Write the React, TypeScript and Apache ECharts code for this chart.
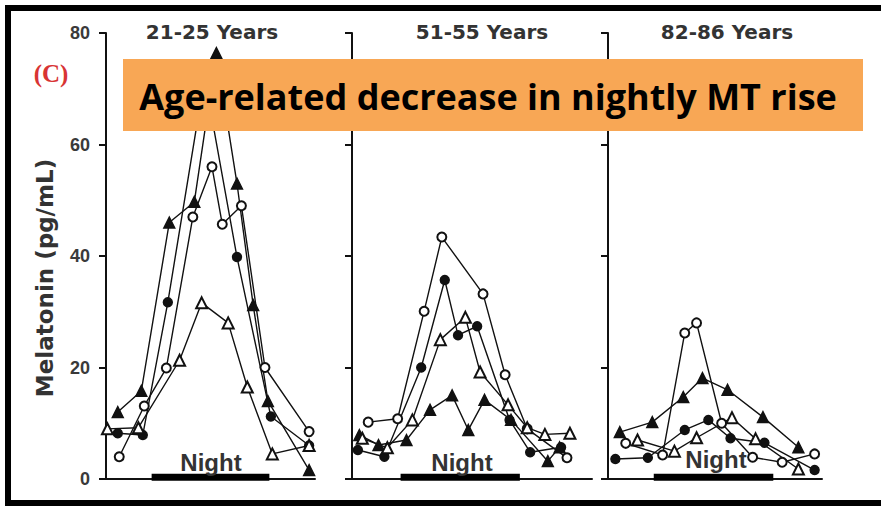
import React, { useEffect, useRef } from "react";
import * as echarts from "echarts";

// ---- data (time in clock hours, >24 = next morning; melatonin in pg/mL) ----
const panelTitles = ["21-25 Years", "51-55 Years", "82-86 Years"];
const xMin = 20;
const panelXMax = [34.2, 36.3, 34.5];
const nightStart = [23.1, 23.3, 23.1];
const nightEnd = [31.1, 31.4, 31.2];
const yMax = 80;
const yInterval = 20;
const yTickValues = [0, 20, 40, 60, 80];

// 21-25 years
const young_filledCircle: [number, number][] = [[20.8, 8.2], [22.5, 7.9], [24.2, 31.7], [26.7, 72], [28.9, 39.8], [31.2, 11.2], [33.8, 6]];
const young_openCircle: [number, number][] = [[20.9, 4], [22.6, 13.1], [24.1, 19.9], [25.9, 47], [27.2, 56], [27.9, 45.7], [29.2, 49], [30.8, 20], [33.8, 8.5]];
const young_filledTriangle: [number, number][] = [[20.8, 12], [22.4, 15.8], [24.3, 46], [26.0, 49.7], [27.5, 76.4], [28.9, 53], [30.0, 31.2], [31.0, 14], [33.8, 1.6]];
const young_openTriangle: [number, number][] = [[20.1, 9], [22.2, 9.2], [25.0, 21.3], [26.5, 31.6], [28.3, 28], [29.6, 16.5], [31.3, 4.5], [33.8, 6]];

// 51-55 years
const middle_filledCircle: [number, number][] = [[20.4, 5.2], [22.2, 4], [24.7, 20], [26.3, 35.7], [27.2, 25.8], [28.5, 27.4], [30.7, 10.6], [32.1, 4.8], [34.2, 5.7]];
const middle_openCircle: [number, number][] = [[21.1, 10.2], [23.1, 10.8], [24.9, 30.1], [26.1, 43.4], [28.9, 33.2], [30.4, 18.7], [31.9, 9.0], [34.6, 3.8]];
const middle_filledTriangle: [number, number][] = [[20.5, 7.9], [21.8, 6.1], [23.7, 7], [25.3, 12.4], [26.8, 15], [27.9, 8.8], [29.0, 14.2], [30.8, 10.6], [33.3, 3.2], [34.1, 5.7]];
const middle_openTriangle: [number, number][] = [[20.7, 7.3], [22.4, 5.6], [24.1, 10.6], [26.0, 25], [27.7, 29], [28.7, 19.2], [30.6, 13.3], [31.9, 9.2], [33.1, 8.0], [34.8, 8.2]];

// 82-86 years
const old_filledCircle: [number, number][] = [[20.5, 3.6], [22.7, 3.8], [25.2, 8.8], [26.8, 10.6], [28.3, 7.3], [30.6, 6.5], [34.0, 1.6]];
const old_openCircle: [number, number][] = [[21.2, 6.4], [23.7, 4.3], [25.2, 26.2], [26.0, 28], [27.7, 10], [29.8, 3.9], [31.8, 3], [34.0, 4.5]];
const old_filledTriangle: [number, number][] = [[20.8, 8.4], [23.0, 10.2], [25.1, 14.7], [26.4, 18.1], [28.1, 16], [30.5, 11.1], [32.9, 5.7]];
const old_openTriangle: [number, number][] = [[22.0, 7.0], [24.5, 5.0], [26.0, 7.4], [28.4, 11], [30.0, 7.2], [32.9, 1.8]];

const panels = [
  [young_filledCircle, young_openCircle, young_filledTriangle, young_openTriangle],
  [middle_filledCircle, middle_openCircle, middle_filledTriangle, middle_openTriangle],
  [old_filledCircle, old_openCircle, old_filledTriangle, old_openTriangle],
];
const symbols = ["circle", "emptyCircle", "triangle", "emptyTriangle"];
const symbolSizes = [9, 9, 11, 11];

// ---- layout ----
const gridLefts = [106, 352, 608];
const gridWidths = [209, 240, 214];
const gridTop = 33;
const gridHeight = 446;
const titleX = [212, 482, 727];
const nightX = [211, 462, 716];
const nightY = [462, 462, 459];
const tickLenHours = 0.5; // outward tick length expressed along the time axis

export default function App() {
  const ref = useRef<HTMLDivElement>(null);
  useEffect(() => {
    const chart = echarts.init(ref.current!, null, { renderer: "svg" });
    const ink = "#111";
    const grid = gridLefts.map((l, i) => ({ left: l, top: gridTop, width: gridWidths[i], height: gridHeight }));
    const xAxis = gridLefts.map((_, i) => ({
      type: "value",
      gridIndex: i,
      min: xMin,
      max: panelXMax[i],
      axisLine: { show: true, onZero: false, lineStyle: { color: ink, width: 2 } },
      axisTick: { show: false },
      axisLabel: { show: false },
      splitLine: { show: false },
    }));
    const yAxis = gridLefts.map((_, i) => ({
      type: "value",
      gridIndex: i,
      min: 0,
      max: yMax,
      interval: yInterval,
      axisLine: { show: true, onZero: false, lineStyle: { color: ink, width: 2 } },
      axisTick: { show: true, inside: false, length: 7, lineStyle: { color: ink, width: 2 } },
      axisLabel: {
        show: i === 0,
        margin: 16,
        color: "#3a3a3a",
        fontFamily: "Liberation Sans",
        fontWeight: "bold",
        fontSize: 18,
      },
      splitLine: { show: false },
    }));
    const series: any[] = [];
    panels.forEach((sets, p) => {
      sets.forEach((data, k) => {
        series.push({
          type: "line",
          xAxisIndex: p,
          yAxisIndex: p,
          data,
          symbol: symbols[k],
          symbolSize: symbolSizes[k],
          showAllSymbol: true,
          lineStyle: { color: ink, width: 1.4 },
          itemStyle: { color: ink, borderColor: ink, borderWidth: 1.4 },
          z: 3,
          silent: true,
        });
      });
      series.push({
        type: "line",
        xAxisIndex: p,
        yAxisIndex: p,
        data: [[nightStart[p], 0.3], [nightEnd[p], 0.3]],
        symbol: "none",
        lineStyle: { color: "#000", width: 7, cap: "butt" },
        z: 4,
        silent: true,
      });
      // outward y-axis tick marks
      yTickValues.forEach((v) => {
        series.push({
          type: "line",
          xAxisIndex: p,
          yAxisIndex: p,
          data: [[xMin - tickLenHours, v], [xMin, v]],
          symbol: "none",
          clip: false,
          lineStyle: { color: ink, width: 2, cap: "butt" },
          z: 5,
          silent: true,
        });
      });
    });

    const graphic: any[] = [
      { type: "rect", shape: { x: 8, y: 8, width: 880, height: 495 }, style: { fill: "none", stroke: "#000", lineWidth: 6 }, z: 50 },
      { type: "rect", shape: { x: 123, y: 59, width: 740, height: 72 }, style: { fill: "#F8A755" }, z: 100 },
      {
        type: "text", x: 488, y: 96, z: 101,
        style: { text: "Age-related decrease in nightly MT rise", font: 'bold 36px "Open Sans"', fill: "#000", align: "center", verticalAlign: "middle" },
      },
      {
        type: "text", x: 51, y: 73, z: 101,
        style: { text: "(C)", font: 'bold 25px "Liberation Serif"', fill: "#d83434", align: "center", verticalAlign: "middle" },
      },
      {
        type: "text", x: 45, y: 278, rotation: Math.PI / 2, z: 101,
        style: { text: "Melatonin (pg/mL)", font: 'bold 23px "DejaVu Sans"', fill: "#333", align: "center", verticalAlign: "middle" },
      },
    ];
    panelTitles.forEach((t, i) => {
      graphic.push({
        type: "text", x: titleX[i], y: 32, z: 101,
        style: { text: t, font: 'bold 20px "DejaVu Sans"', fill: "#333", align: "center", verticalAlign: "middle" },
      });
      graphic.push({
        type: "text", x: nightX[i], y: nightY[i], z: 101,
        style: { text: "Night", font: 'bold 24px "Liberation Sans"', fill: "#333", align: "center", verticalAlign: "middle" },
      });
    });

    chart.setOption({
      animation: false,
      backgroundColor: "#fff",
      grid,
      xAxis,
      yAxis,
      series,
      graphic,
    });
    return () => chart.dispose();
  }, []);
  return <div ref={ref} style={{ position: "absolute", left: 0, top: 0, width: 881, height: 506 }} />;
}
